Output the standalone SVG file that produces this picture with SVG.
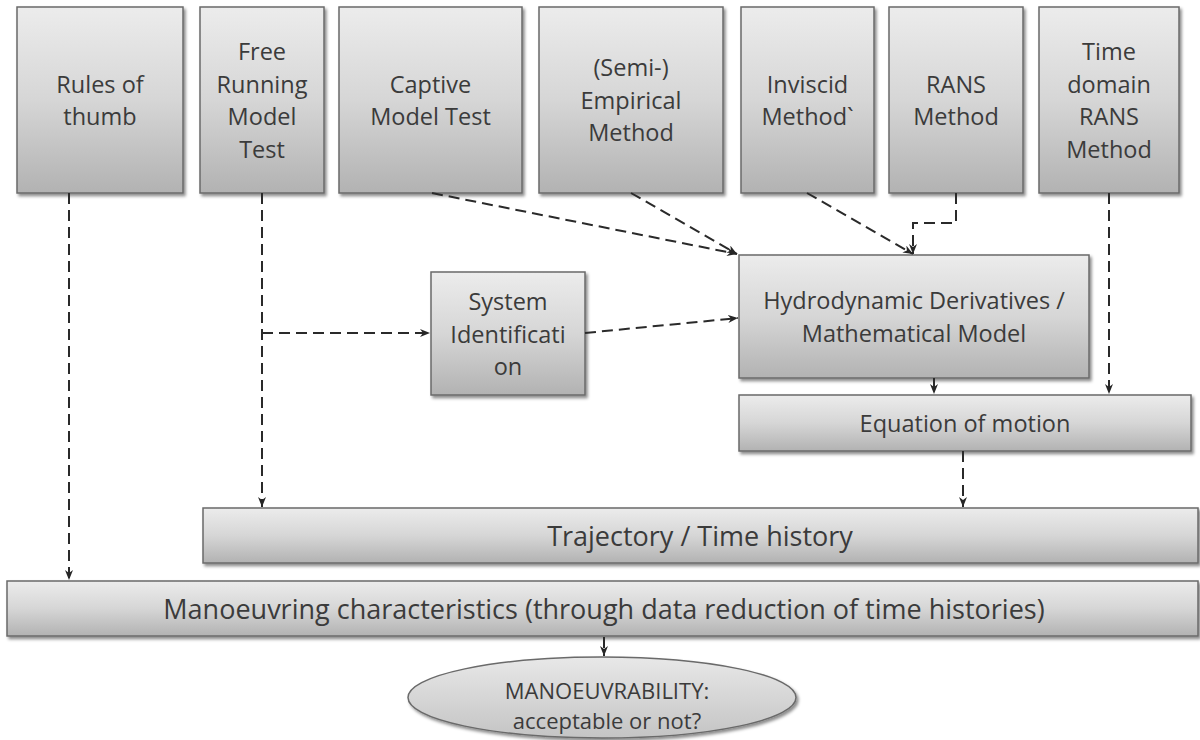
<svg xmlns="http://www.w3.org/2000/svg" width="1200" height="740" viewBox="0 0 1200 740">
  <defs>
    <linearGradient id="boxFill" x1="0" y1="0" x2="0" y2="1">
      <stop offset="0" stop-color="#ececec"/>
      <stop offset="0.5" stop-color="#d6d6d6"/>
      <stop offset="1" stop-color="#b2b2b2"/>
    </linearGradient>
    <linearGradient id="ovalFill" x1="0" y1="0" x2="0" y2="1">
      <stop offset="0" stop-color="#e8e8e8"/>
      <stop offset="1" stop-color="#c4c4c4"/>
    </linearGradient>
    <filter id="shadow" x="-5%" y="-5%" width="115%" height="130%">
      <feDropShadow dx="2" dy="2.5" stdDeviation="1.5" flood-color="#000" flood-opacity="0.45"/>
    </filter>
    <marker id="arrow" viewBox="0 0 10 8" refX="10" refY="4" markerWidth="10" markerHeight="8" markerUnits="userSpaceOnUse" orient="auto">
      <path d="M0,0 L10,4 L0,8 L3,4 Z" fill="#262626"/>
    </marker>
  </defs>
  <style>
    .box { fill: url(#boxFill); stroke: #6a6a6a; stroke-width: 1.5; filter: url(#shadow); }
    .oval { fill: url(#ovalFill); stroke: #6a6a6a; stroke-width: 1.5; filter: url(#shadow); }
    .lbl { font-family: "Open Sans", "Noto Sans", "DejaVu Sans", sans-serif; font-size: 23.5px; fill: #3b3b3b; text-anchor: middle; }
    .big { font-size: 27px; }
    .oval-lbl { font-size: 22px; }
    .link { fill: none; stroke: #2a2a2a; stroke-width: 2; stroke-dasharray: 11 6; marker-end: url(#arrow); }
  </style>

  <!-- top row: sources of manoeuvring prediction -->
  <g id="rules-of-thumb">
    <rect class="box" x="17" y="7" width="166" height="186"/>
    <text class="lbl" x="100" y="92.5">Rules of</text>
    <text class="lbl" x="100" y="125">thumb</text>
  </g>
  <g id="free-running">
    <rect class="box" x="200" y="7" width="124" height="186"/>
    <text class="lbl" x="262" y="60">Free</text>
    <text class="lbl" x="262" y="92.5">Running</text>
    <text class="lbl" x="262" y="125">Model</text>
    <text class="lbl" x="262" y="157.5">Test</text>
  </g>
  <g id="captive-model">
    <rect class="box" x="339" y="7" width="183" height="186"/>
    <text class="lbl" x="430.5" y="92.5">Captive</text>
    <text class="lbl" x="430.5" y="125">Model Test</text>
  </g>
  <g id="semi-empirical">
    <rect class="box" x="539" y="7" width="184" height="186"/>
    <text class="lbl" x="631" y="76.25">(Semi-)</text>
    <text class="lbl" x="631" y="108.75">Empirical</text>
    <text class="lbl" x="631" y="141.25">Method</text>
  </g>
  <g id="inviscid">
    <rect class="box" x="741" y="7" width="133" height="186"/>
    <text class="lbl" x="807.5" y="92.5">Inviscid</text>
    <text class="lbl" x="807.5" y="125">Method`</text>
  </g>
  <g id="rans">
    <rect class="box" x="889" y="7" width="134" height="186"/>
    <text class="lbl" x="956" y="92.5">RANS</text>
    <text class="lbl" x="956" y="125">Method</text>
  </g>
  <g id="time-domain-rans">
    <rect class="box" x="1039" y="7" width="140" height="186"/>
    <text class="lbl" x="1109" y="60">Time</text>
    <text class="lbl" x="1109" y="92.5">domain</text>
    <text class="lbl" x="1109" y="125">RANS</text>
    <text class="lbl" x="1109" y="157.5">Method</text>
  </g>

  <!-- intermediate steps -->
  <g id="system-identification">
    <rect class="box" x="431" y="272" width="154" height="123"/>
    <text class="lbl" x="508" y="310">System</text>
    <text class="lbl" x="508" y="342.5">Identificati</text>
    <text class="lbl" x="508" y="375">on</text>
  </g>
  <g id="hydrodynamic-model">
    <rect class="box" x="739" y="255" width="350" height="123"/>
    <text class="lbl" x="914" y="309">Hydrodynamic Derivatives /</text>
    <text class="lbl" x="914" y="342">Mathematical Model</text>
  </g>
  <g id="equation-of-motion">
    <rect class="box" x="739" y="395" width="452" height="56"/>
    <text class="lbl" x="965" y="431.5">Equation of motion</text>
  </g>
  <g id="trajectory">
    <rect class="box" x="203" y="508" width="995" height="55"/>
    <text class="lbl big" x="700" y="546">Trajectory / Time history</text>
  </g>
  <g id="manoeuvring-characteristics">
    <rect class="box" x="7" y="581" width="1191" height="55"/>
    <text class="lbl big" x="604" y="618.5">Manoeuvring characteristics (through data reduction of time histories)</text>
  </g>
  <g id="manoeuvrability">
    <ellipse class="oval" cx="602" cy="697.5" rx="194" ry="40.5"/>
    <text class="lbl oval-lbl" x="607" y="699">MANOEUVRABILITY:</text>
    <text class="lbl oval-lbl" x="607" y="729">acceptable or not?</text>
  </g>

  <!-- dashed connectors -->
  <g id="connectors">
    <line class="link" x1="69" y1="193" x2="69" y2="580"/>
    <line class="link" x1="262" y1="193" x2="262" y2="507"/>
    <line class="link" x1="262" y1="333" x2="430" y2="333"/>
    <line class="link" x1="432" y1="193" x2="737" y2="254"/>
    <line class="link" x1="631" y1="193" x2="737" y2="254"/>
    <line class="link" x1="807" y1="193" x2="913" y2="254"/>
    <polyline class="link" points="956,193 956,223 913,223 913,254"/>
    <line class="link" x1="585" y1="333" x2="738" y2="318"/>
    <line class="link" x1="934" y1="378" x2="934" y2="394"/>
    <line class="link" x1="1109" y1="193" x2="1109" y2="394"/>
    <line class="link" x1="963" y1="451" x2="963" y2="507"/>
    <line class="link" x1="604" y1="637" x2="604" y2="656"/>
  </g>
</svg>
